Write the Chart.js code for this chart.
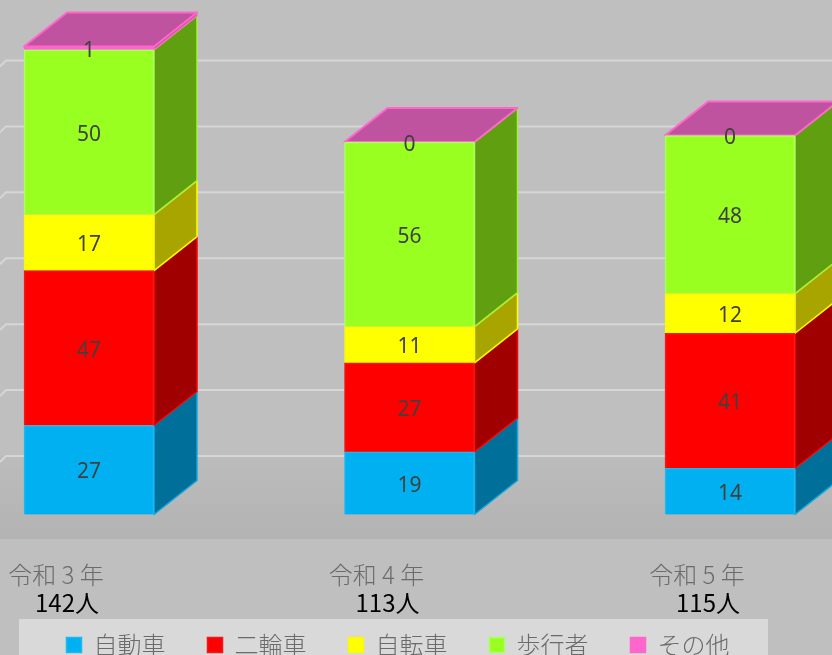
<!DOCTYPE html>
<html lang="ja">
<head>
<meta charset="utf-8">
<style>html,body{margin:0;padding:0;background:#bfbfbf;overflow:hidden}canvas{display:block}</style>
<script src="https://cdn.jsdelivr.net/npm/chart.js@4"></script>
</head>
<body>
<canvas id="c" width="832" height="655"></canvas>
<script>
const categories = ['令和 3 年', '令和 4 年', '令和 5 年'];
const totals = ['142人', '113人', '115人'];
const car = [27, 19, 14];
const motorcycle = [47, 27, 41];
const bicycle = [17, 11, 12];
const pedestrian = [50, 56, 48];
const other = [1, 0, 0];
const gridValues = [0, 20, 40, 60, 80, 100, 120];

const DEPTH_X = 43, DEPTH_Y = 34;
const CJK = '"Noto Sans CJK JP", "Noto Sans", sans-serif';
const pts = a => a.map((v, i) => ({x: i, y: v}));
const series = (label, data, fill, border, side, sideBorder) => ({
  label, data: pts(data), backgroundColor: fill, borderColor: border, borderWidth: 1.5,
  barThickness: 130, side, sideBorder
});

const cube = {
  id: 'cube',
  beforeLayout(chart) {
    const lg = chart.legend;
    if (!lg.fitWrapped) {
      const fit = lg.fit;
      lg.fit = function () { fit.call(this); this.height = 38; };
      lg.fitWrapped = true;
    }
  },
  beforeDraw(chart) {
    const {ctx, chartArea, scales} = chart;
    ctx.save();
    ctx.fillStyle = '#bfbfbf';
    ctx.fillRect(0, 0, chart.width, chart.height);
    const floorTop = scales.yGrid.getPixelForValue(0);
    const g = ctx.createLinearGradient(0, floorTop, 0, chartArea.bottom);
    g.addColorStop(0, '#bcbcbc');
    g.addColorStop(1, '#b3b3b3');
    ctx.fillStyle = g;
    ctx.fillRect(0, floorTop, chart.width, chartArea.bottom - floorTop);
    ctx.strokeStyle = '#d6d6d6';
    ctx.lineWidth = 2;
    scales.yGrid.ticks.forEach(t => {
      const y = scales.yGrid.getPixelForValue(t.value);
      ctx.beginPath();
      ctx.moveTo(0, y + 6);
      ctx.lineTo(6, y);
      ctx.lineTo(chart.width, y);
      ctx.stroke();
    });
    ctx.fillStyle = '#d9d9d9';
    ctx.fillRect(19, 619, 749, 36);
    ctx.restore();
  },
  beforeDatasetsDraw(chart) {
    const {ctx} = chart;
    ctx.save();
    ctx.lineJoin = 'round';
    const metas = chart.data.datasets.map((d, i) => chart.getDatasetMeta(i));
    metas.forEach((m, di) => {
      const ds = chart.data.datasets[di];
      m.data.forEach(b => {
        const r = b.x + b.width / 2, top = b.y, base = b.base;
        if (Math.abs(base - top) < 0.5) return;
        ctx.beginPath();
        ctx.moveTo(r, top);
        ctx.lineTo(r + DEPTH_X, top - DEPTH_Y);
        ctx.lineTo(r + DEPTH_X, base - DEPTH_Y);
        ctx.lineTo(r, base);
        ctx.closePath();
        ctx.fillStyle = ds.side;
        ctx.fill();
        ctx.strokeStyle = ds.sideBorder;
        ctx.lineWidth = 1.5;
        ctx.stroke();
      });
    });
    const last = metas[metas.length - 1];
    last.data.forEach(b => {
      const l = b.x - b.width / 2, r = b.x + b.width / 2, y = b.y;
      ctx.beginPath();
      ctx.moveTo(l, y);
      ctx.lineTo(r, y);
      ctx.lineTo(r + DEPTH_X, y - DEPTH_Y);
      ctx.lineTo(l + DEPTH_X, y - DEPTH_Y);
      ctx.closePath();
      ctx.fillStyle = '#c0539f';
      ctx.fill();
      ctx.strokeStyle = '#ff66cc';
      ctx.lineWidth = 2;
      ctx.stroke();
    });
    ctx.restore();
  },
  afterDatasetsDraw(chart) {
    const {ctx} = chart;
    ctx.save();
    ctx.font = '21px "Noto Sans", sans-serif';
    ctx.fillStyle = '#404040';
    ctx.textAlign = 'center';
    ctx.textBaseline = 'middle';
    chart.data.datasets.forEach((ds, di) => {
      chart.getDatasetMeta(di).data.forEach((b, i) => {
        ctx.fillText(String(ds.data[i].y), b.x, (b.y + b.base) / 2 + 2.5);
      });
    });
    ctx.restore();
  },
  afterLayout(chart) {
    const lg = chart.legend;
    lg.top = 591;
    lg.bottom = 655;
    lg.left -= 18;
    lg.right -= 18;
  }
};

const xRange = {min: -89 / 320.5, max: 743 / 320.5};
const setTicks = s => { s.ticks = categories.map((_, i) => ({value: i})); };

new Chart(document.getElementById('c'), {
  type: 'bar',
  data: {
    datasets: [
      series('自動車', car, '#00b0f0', '#1cb8f0', '#00709a', '#12a8e0'),
      series('二輪車', motorcycle, '#ff0000', '#f01818', '#a00000', '#ff0000'),
      series('自転車', bicycle, '#ffff00', '#f8f810', '#a8a400', '#ffff00'),
      series('歩行者', pedestrian, '#99ff21', '#aaff66', '#60a010', '#a4f040'),
      series('その他', other, '#ff66cc', '#ff66cc', '#c0539f', '#ff66cc')
    ]
  },
  options: {
    responsive: false,
    animation: false,
    devicePixelRatio: 1,
    layout: {padding: 0},
    scales: {
      x: {
        type: 'linear', position: 'bottom', ...xRange, stacked: true, offset: false,
        grid: {display: false}, border: {display: false},
        afterBuildTicks: setTicks,
        afterFit(s) { s.height = 48; },
        ticks: {
          autoSkip: false, maxRotation: 0, padding: 13, labelOffset: -33,
          color: '#6b6b6b', font: {family: CJK, size: 24, weight: 300},
          callback: v => categories[v]
        }
      },
      x2: {
        type: 'linear', axis: 'x', position: 'bottom', ...xRange, offset: false,
        grid: {display: false}, border: {display: false},
        afterBuildTicks: setTicks,
        afterFit(s) { s.height = 30; },
        ticks: {
          autoSkip: false, maxRotation: 0, padding: -7, labelOffset: -22,
          color: '#000000', font: {family: CJK, size: 24},
          callback: v => totals[v]
        }
      },
      y: {
        display: false, stacked: true,
        min: (514.5 - 539) / 3.296, max: 514.5 / 3.296
      },
      yGrid: {
        display: false, axis: 'y', position: 'left',
        min: (456 - 539) / 3.296, max: 456 / 3.296,
        afterBuildTicks(s) { s.ticks = gridValues.map(v => ({value: v})); }
      }
    },
    plugins: {
      tooltip: {enabled: false},
      legend: {
        position: 'bottom',
        labels: {
          boxWidth: 15, boxHeight: 15, padding: 42,
          color: '#6b6b6b', font: {family: CJK, size: 24, weight: 300}
        }
      }
    }
  },
  plugins: [cube]
});
</script>
</body>
</html>
